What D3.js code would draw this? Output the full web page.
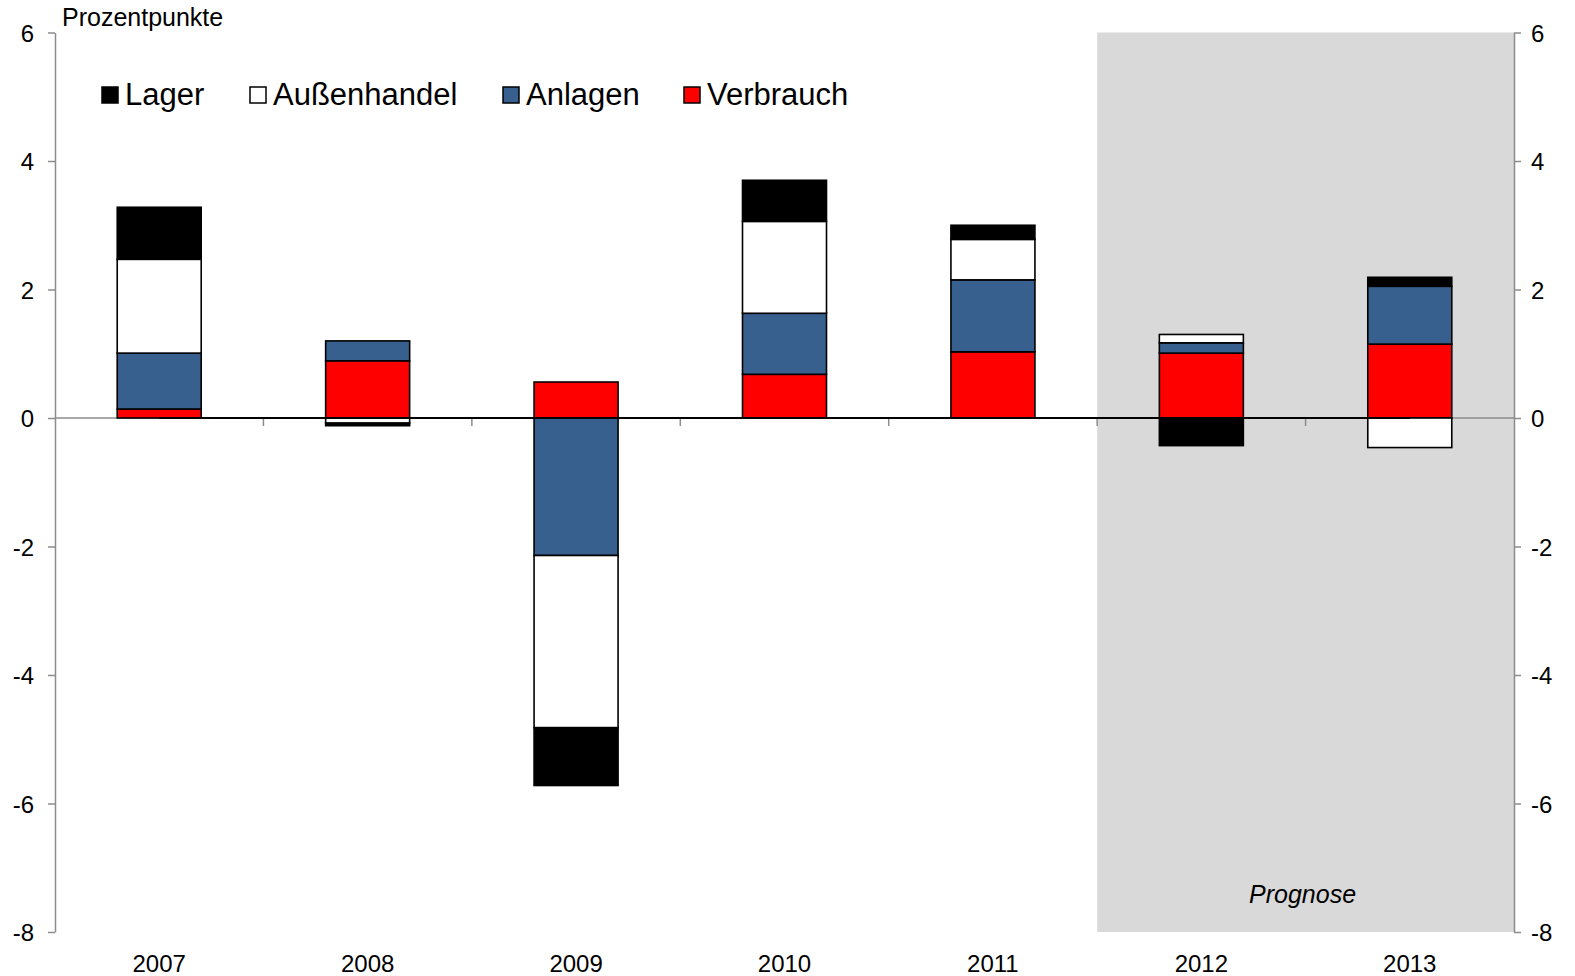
<!DOCTYPE html>
<html>
<head>
<meta charset="utf-8">
<script src="https://cdn.jsdelivr.net/npm/d3@7"></script>
<style>
	body { margin: 0; background: #fff; }
	svg { display: block; font-family: "Liberation Sans", Arial, sans-serif; }
	.axe path, .axe line { stroke: #8c8c8c; stroke-width: 1.5; }
	.axe text { fill: #000; font-size: 24px; }
</style>
</head>
<body>
<div id="graphe"></div>
<script>
"use strict";

/*
	DONNÉES	****	****	****	****	*/

var annees = ["2007", "2008", "2009", "2010", "2011", "2012", "2013"];
var prognose = ["2012", "2013"];

// series in stacking order (bottom first)
var series = ["Verbrauch", "Anlagen", "Außenhandel", "Lager"];
var legende = ["Lager", "Außenhandel", "Anlagen", "Verbrauch"];

var verbrauch   = [0.14, 0.89, 0.56, 0.68, 1.03, 1.01, 1.15];
var anlagen     = [0.87, 0.31, -2.14, 0.95, 1.12, 0.16, 0.90];
var aussenhandel = [1.46, -0.08, -2.68, 1.43, 0.63, 0.13, -0.46];
var lager       = [0.81, -0.04, -0.90, 0.64, 0.22, -0.43, 0.14];

var yTicks = [-8, -6, -4, -2, 0, 2, 4, 6];

var couleurs = {
	"Verbrauch": "#ff0000",
	"Anlagen": "#37608f",
	"Außenhandel": "#ffffff",
	"Lager": "#000000"
};

/*
	DIMENSIONS	****	****	****	****	*/

var W = 1575, H = 976;
var marge = { left: 55, right: 61, top: 32.5, bottom: 44 };

var svg = d3.select("#graphe").append("svg")
	.attr("width", W)
	.attr("height", H);

var x = d3.scaleBand()
	.domain(annees)
	.range([marge.left, W - marge.right])
	.paddingInner(0)
	.paddingOuter(0);

var y = d3.scaleLinear()
	.domain([-8, 6])
	.range([H - marge.bottom, marge.top]);

var largeurBarre = x.bandwidth() * 0.403;

// table for the stack
var table = annees.map((a, i) => ({
	annee: a,
	"Verbrauch": verbrauch[i],
	"Anlagen": anlagen[i],
	"Außenhandel": aussenhandel[i],
	"Lager": lager[i]
}));

var empile = d3.stack()
	.keys(series)
	.offset(d3.stackOffsetDiverging)(table);

/*
	ZONE PROGNOSE	****	****	****	****	*/

svg.append("rect")
	.attr("x", x(prognose[0]))
	.attr("y", y(6))
	.attr("width", x(prognose[prognose.length - 1]) + x.bandwidth() - x(prognose[0]))
	.attr("height", y(-8) - y(6))
	.attr("fill", "#d9d9d9");

svg.append("text")
	.attr("x", x(prognose[0]) + (x(prognose[1]) + x.bandwidth() - x(prognose[0])) / 2 - 3)
	.attr("y", y(-7.3) + 16)
	.attr("text-anchor", "middle")
	.attr("font-size", "25px")
	.attr("font-style", "italic")
	.text("Prognose");

/*
	AXES	****	****	****	****	*/

var formatTick = d => String(d); // plain hyphen as in the original

svg.append("g")
	.attr("class", "axe axe-gauche")
	.attr("transform", "translate(" + marge.left + ",0)")
	.call(d3.axisLeft(y).tickValues(yTicks).tickFormat(formatTick).tickSize(7).tickPadding(14).tickSizeOuter(0))
	.call(g => g.selectAll("text").attr("dy", "0.36em"));

svg.append("g")
	.attr("class", "axe axe-droite")
	.attr("transform", "translate(" + (W - marge.right) + ",0)")
	.call(d3.axisRight(y).tickValues(yTicks).tickFormat(formatTick).tickSize(7).tickPadding(10).tickSizeOuter(0))
	.call(g => g.selectAll("text").attr("dy", "0.36em"));

// category axis on the zero line, ticks between categories
var gx = svg.append("g")
	.attr("class", "axe axe-x");

gx.append("line")
	.attr("x1", marge.left)
	.attr("x2", W - marge.right)
	.attr("y1", y(0))
	.attr("y2", y(0));

gx.selectAll("line.trait")
	.data(annees.slice(1))
	.enter()
		.append("line")
		.attr("class", "trait")
		.attr("x1", d => x(d))
		.attr("x2", d => x(d))
		.attr("y1", y(0))
		.attr("y2", y(0) + 8);

gx.selectAll("text")
	.data(annees)
	.enter()
		.append("text")
		.attr("x", d => x(d) + x.bandwidth() / 2)
		.attr("y", H - 4)
		.attr("text-anchor", "middle")
		.text(d => d);

svg.append("text")
	.attr("x", 62)
	.attr("y", 26)
	.attr("font-size", "25px")
	.text("Prozentpunkte");

/*
	BARRES	****	****	****	****	*/

var gSeries = svg.append("g")
	.attr("class", "barres")
	.selectAll("g")
	.data(empile)
	.enter()
		.append("g")
		.attr("fill", d => couleurs[d.key]);

gSeries.selectAll("rect")
	.data(d => d)
	.enter()
		.append("rect")
		.attr("x", d => x(d.data.annee) + (x.bandwidth() - largeurBarre) / 2)
		.attr("y", d => y(d[1]))
		.attr("width", largeurBarre)
		.attr("height", d => Math.abs(y(d[0]) - y(d[1])))
		.attr("stroke", "#000")
		.attr("stroke-width", 1.6);

// zero line drawn across the category centres
svg.append("line")
	.attr("x1", x(annees[0]) + x.bandwidth() / 2)
	.attr("x2", x(annees[annees.length - 1]) + x.bandwidth() / 2)
	.attr("y1", y(0))
	.attr("y2", y(0))
	.attr("stroke", "#000")
	.attr("stroke-width", 2);

/*
	LÉGENDE	****	****	****	****	*/

var positionsLegende = [102, 250, 503, 684];

var gLegende = svg.append("g")
	.attr("class", "legende")
	.selectAll("g")
	.data(legende)
	.enter()
		.append("g")
		.attr("transform", (d, i) => "translate(" + positionsLegende[i] + ",87)");

gLegende.append("rect")
	.attr("width", 16)
	.attr("height", 16)
	.attr("fill", d => couleurs[d])
	.attr("stroke", "#000")
	.attr("stroke-width", 1.5);

gLegende.append("text")
	.attr("x", 23)
	.attr("y", 18)
	.attr("font-size", "31px")
	.text(d => d);
</script>
</body>
</html>
